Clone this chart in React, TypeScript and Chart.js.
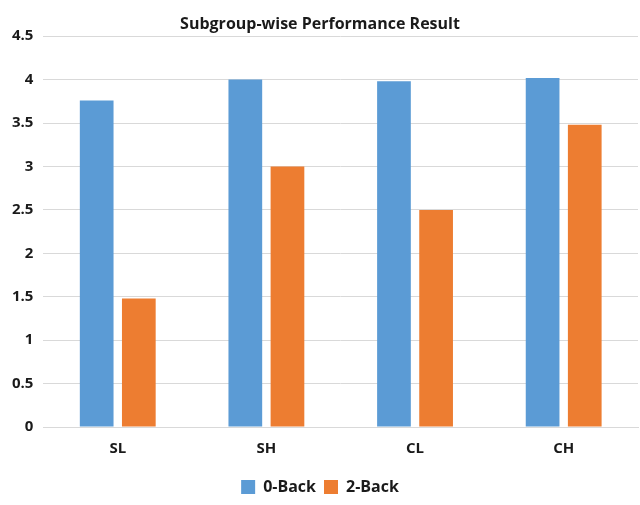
import React, { useEffect, useRef } from "react";
import { Chart, registerables } from "chart.js";

Chart.register(...registerables);

const categories = ["SL", "SH", "CL", "CH"];
const zeroBack = [3.76, 4.0, 3.98, 4.02];
const twoBack = [1.48, 3.0, 2.5, 3.48];
const seriesNames = ["0-Back", "2-Back"];

export default function App() {
  const ref = useRef<HTMLCanvasElement | null>(null);
  useEffect(() => {
    document.body.style.margin = "0";
    const font = "'Open Sans', 'Noto Sans', sans-serif";
    const chart = new Chart(ref.current!, {
      type: "bar",
      data: {
        labels: categories,
        datasets: [
          {
            label: seriesNames[0],
            data: zeroBack,
            backgroundColor: "#5B9BD5",
            categoryPercentage: 0.567,
            barPercentage: 0.8,
          },
          {
            label: seriesNames[1],
            data: twoBack,
            backgroundColor: "#ED7D31",
            categoryPercentage: 0.567,
            barPercentage: 0.8,
          },
        ],
      },
      options: {
        animation: false,
        responsive: false,
        maintainAspectRatio: false,
        layout: { padding: { left: 2, right: 2, top: 15, bottom: 0 } },
        plugins: {
          title: {
            display: true,
            text: "Subgroup-wise Performance Result",
            color: "#1a1a1a",
            font: { family: font, size: 16, weight: "bold" },
            padding: { top: 0, bottom: 2 },
          },
          legend: {
            position: "bottom",
            labels: {
              color: "#1a1a1a",
              font: { family: font, size: 16, weight: "bold" },
              boxWidth: 14,
              boxHeight: 14,
              padding: 8,
            },
          },
          tooltip: { enabled: false },
        },
        scales: {
          x: {
            grid: { display: false, drawTicks: false },
            border: { display: true, color: "#d9d9d9" },
            ticks: {
              color: "#1a1a1a",
              font: { family: font, size: 15, weight: "bold" },
              padding: 13,
            },
          },
          y: {
            min: 0,
            max: 4.5,
            grid: { color: "#d9d9d9", drawTicks: false },
            border: { display: false },
            ticks: {
              stepSize: 0.5,
              color: "#1a1a1a",
              font: { family: font, size: 15, weight: "bold" },
              padding: 10,
              callback: (v: any) => String(Number(v)),
            },
          },
        },
      },
    });
    return () => chart.destroy();
  }, []);
  return (
    <div style={{ width: 640, height: 505 }}>
      <canvas ref={ref} width={640} height={505} style={{ width: 640, height: 505 }} />
    </div>
  );
}
